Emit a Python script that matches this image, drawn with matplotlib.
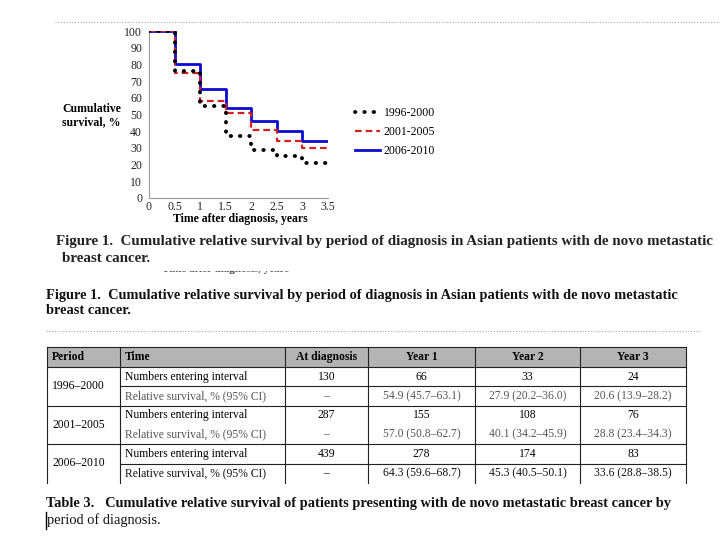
import numpy as np
import matplotlib.pyplot as plt

plt.rcParams['font.family'] = ['Liberation Serif', 'DejaVu Serif']

# survival curves, %
t = [0, 0.5, 1, 1.5, 2, 2.5, 3, 3.5]
s_1996 = [100, 76, 55, 37, 29, 25, 21, 21]
s_2001 = [100, 75, 58, 51, 41, 34, 30, 30]
s_2006 = [100, 80, 65, 54, 46, 40, 34, 34]
series_labels = ['1996-2000', '2001-2005', '2006-2010']
xtick_vals = [0, 0.5, 1, 1.5, 2, 2.5, 3, 3.5]
xtick_labels = ['0', '0.5', '1', '1.5', '2', '2.5', '3', '3.5']
ytick_vals = list(range(0, 101, 10))

# table 3
col_heads = ['Period', 'Time', 'At diagnosis', 'Year 1', 'Year 2', 'Year 3']
periods = ['1996–2000', '2001–2005', '2006–2010']
row_names = ['Numbers entering interval', 'Relative survival, % (95% CI)']
numbers = [['130', '66', '33', '24'],
           ['287', '155', '108', '76'],
           ['439', '278', '174', '83']]
survival = [['–', '54.9 (45.7–63.1)', '27.9 (20.2–36.0)', '20.6 (13.9–28.2)'],
            ['–', '57.0 (50.8–62.7)', '40.1 (34.2–45.9)', '28.8 (23.4–34.3)'],
            ['–', '64.3 (59.6–68.7)', '45.3 (40.5–50.1)', '33.6 (28.8–38.5)']]

cap_fig = ('Figure 1.  Cumulative relative survival by period of diagnosis in Asian patients with de novo metastatic',
           'breast cancer.')
cap_tab = ('Table 3.   Cumulative relative survival of patients presenting with de novo metastatic breast cancer by',
           'period of diagnosis.')

W, H = 720, 540
fig = plt.figure(figsize=(7.2, 5.4), dpi=100)

# page layer in pixel coordinates
bg = fig.add_axes([0, 0, 1, 1])
bg.set_xlim(0, W)
bg.set_ylim(H, 0)
bg.axis('off')

# dotted page separators
bg.plot([55, 720], [22, 22], color='#aaaaaa', lw=0.8, ls=(0, (1, 1.5)))
bg.plot([46, 700], [331, 331], color='#aaaaaa', lw=0.8, ls=(0, (1, 1.5)))

# chart
ax = fig.add_axes([149 / W, (H - 198) / H, 179 / W, 167 / H])
ax.plot(t, s_2006, drawstyle='steps-post', color='#0a0ad0', lw=2.0, label=series_labels[2], zorder=2)
ax.plot(t, s_2001, drawstyle='steps-post', color='#d02020', lw=1.6, ls=(0, (3, 1.8)),
        label=series_labels[1], zorder=3)
ax.plot(t, s_1996, drawstyle='steps-post', color='black', lw=2.8, ls=(0, (0.1, 2.3)),
        dash_capstyle='round', label=series_labels[0], zorder=4)
ax.set_xlim(0, 3.5)
ax.set_ylim(0, 100)
ax.set_xticks(xtick_vals)
ax.set_xticklabels(xtick_labels)
ax.set_yticks(ytick_vals)
ax.tick_params(length=0, labelsize=8.5, colors='#222222')
ax.tick_params(axis='y', pad=5)
ax.tick_params(axis='x', pad=2.5)
for sp in ['top', 'right']:
    ax.spines[sp].set_visible(False)
for sp in ['left', 'bottom']:
    ax.spines[sp].set_color('#999999')
    ax.spines[sp].set_linewidth(0.8)
ax.set_facecolor('none')

h, l = ax.get_legend_handles_labels()
fig.legend(h[::-1], l[::-1], loc='upper left', bbox_to_anchor=(355 / W, 1 - 107 / H),
           frameon=False, fontsize=8.5, handlelength=2.1, handletextpad=0.35,
           labelspacing=0.6, borderpad=0, borderaxespad=0)

bg.text(62, 103, 'Cumulative\nsurvival, %', fontsize=8.5, fontweight='bold',
        ha='left', va='top', linespacing=1.1)
bg.text(240, 219, 'Time after diagnosis, years', fontsize=8.5, fontweight='bold',
        ha='center', va='center')

# captions
bg.text(56, 242, cap_fig[0], fontsize=10.8, fontweight='bold', ha='left', va='center', color='#222222')
bg.text(62, 259, cap_fig[1], fontsize=10.8, fontweight='bold', ha='left', va='center', color='#222222')

# cut-off fragment of the axis title
bg.text(225, 270, 'Time after diagnosis, years', fontsize=8, fontweight='bold',
        ha='center', va='center', color='#333333')
bg.add_patch(plt.Rectangle((150, 258), 150, 12, color='white', zorder=5))

bg.text(46, 295, cap_fig[0], fontsize=10.4, fontweight='bold', ha='left', va='center', color='#111111')
bg.text(46, 311, cap_fig[1], fontsize=10.4, fontweight='bold', ha='left', va='center', color='#111111')

# table
xs = [47, 120, 285, 368, 475, 580, 686]
top, head_bot = 347, 367
row_h = 19.3
bg.add_patch(plt.Rectangle((xs[0], top), xs[-1] - xs[0], head_bot - top,
                           facecolor='#b4b4b4', edgecolor='none'))
lc = '#222222'
bg.plot([xs[0], xs[-1]], [top, top], color=lc, lw=0.8)
bg.plot([xs[0], xs[-1]], [head_bot, head_bot], color=lc, lw=0.8)
bottom = head_bot + 6 * row_h
for x in xs:
    bg.plot([x, x], [top, bottom], color=lc, lw=0.8)

fs = 8.4
centers = [(xs[i] + xs[i + 1]) / 2 for i in range(2, 6)]
hy = (top + head_bot) / 2
bg.text(52, hy, col_heads[0], fontsize=fs, fontweight='bold', ha='left', va='center')
bg.text(125, hy, col_heads[1], fontsize=fs, fontweight='bold', ha='left', va='center')
for c, name in zip(centers, col_heads[2:]):
    bg.text(c, hy, name, fontsize=fs, fontweight='bold', ha='center', va='center')

for g in range(3):
    g_top = head_bot + 2 * g * row_h
    if g > 0:
        bg.plot([xs[0], xs[-1]], [g_top, g_top], color=lc, lw=0.8)
    if g != 1:
        bg.plot([xs[1], xs[-1]], [g_top + row_h, g_top + row_h], color=lc, lw=0.8)
    bg.text(52, g_top + row_h, periods[g], fontsize=fs, ha='left', va='center')
    faded = '#555555' if g < 2 else '#111111'
    y1 = g_top + row_h / 2
    y2 = g_top + 1.5 * row_h
    bg.text(125, y1, row_names[0], fontsize=fs, ha='left', va='center')
    bg.text(125, y2, row_names[1], fontsize=fs, ha='left', va='center', color=faded)
    for c, n, s in zip(centers, numbers[g], survival[g]):
        bg.text(c, y1, n, fontsize=fs, ha='center', va='center')
        bg.text(c, y2, s, fontsize=fs, ha='center', va='center', color=faded)

bg.text(46, 504, cap_tab[0], fontsize=10.4, fontweight='bold', ha='left', va='center', color='#111111')
bg.text(47, 520, cap_tab[1], fontsize=10.4, ha='left', va='center', color='#111111')
bg.plot([46, 46], [512, 529], color='black', lw=1)

fig.savefig('out.png', dpi=100)
